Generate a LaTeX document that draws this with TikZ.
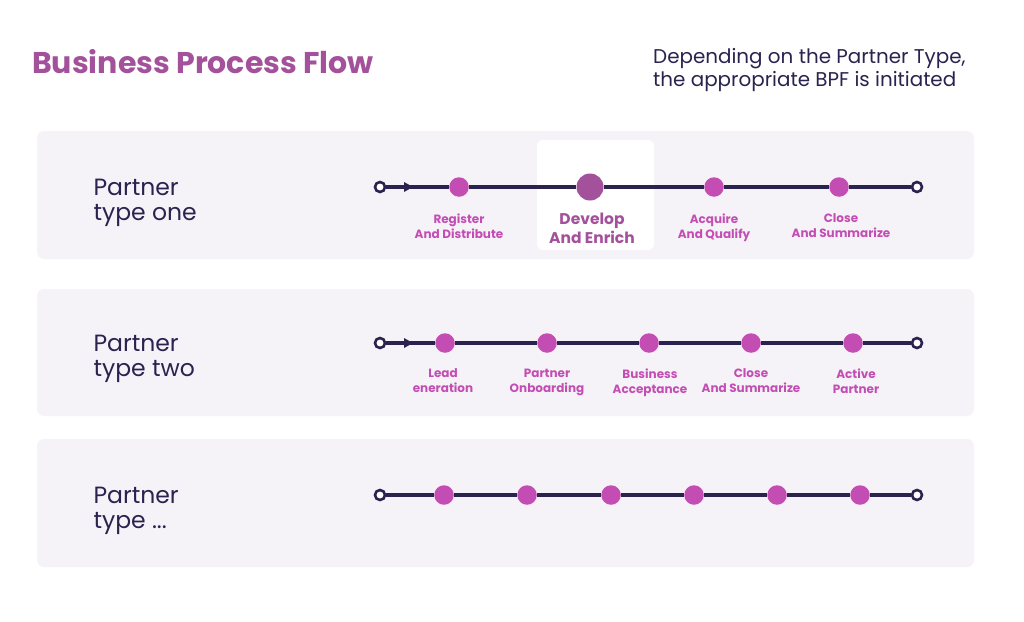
\documentclass[tikz,border=0pt]{standalone}
\usepackage{fontspec}
\setmainfont{Poppins}
\usetikzlibrary{arrows.meta}
\definecolor{navy}{HTML}{2A2350}
\definecolor{panel}{HTML}{F5F3F7}
\definecolor{dotc}{HTML}{C44DB4}
\definecolor{plum}{HTML}{A4519B}
\tikzset{
  panelbox/.style={fill=panel, rounded corners=7pt, draw=none},
  flowline/.style={draw=navy, line width=3.2pt},
  endpt/.style={circle, draw=navy, line width=2.6pt, fill=white, minimum size=10pt, inner sep=0pt},
  stage/.style={circle, fill=dotc, minimum size=19.5pt, inner sep=0pt},
  bigstage/.style={circle, fill=plum, minimum size=27pt, inner sep=0pt},
  lab/.style={text=dotc, font=\fontsize{12}{15}\selectfont\bfseries, align=center, anchor=north},
  biglab/.style={text=plum, font=\fontsize{15.5}{19}\selectfont\bfseries, align=center, anchor=north},
  rowlab/.style={text=navy, font=\fontsize{23.5}{25}\selectfont, align=left, anchor=west},
}
\begin{document}
\begin{tikzpicture}[x=1pt,y=-1pt]
\useasboundingbox[fill=white] (0,0) rectangle (1024,621);
% title
\node[anchor=base west, inner sep=0pt, text=plum, font=\fontsize{30}{32}\selectfont\bfseries] (title) at (32,73) {Business Process Flow};
\node[anchor=north west, inner sep=0pt, text=navy, font=\fontsize{19.9}{23.5}\selectfont, align=left] (note) at (653,48) {Depending on the Partner Type,\\the appropriate BPF is initiated};
% panels
\path[panelbox] (37,131) rectangle (974,259);
\path[panelbox] (37,289) rectangle (974,416);
\path[panelbox] (37,439) rectangle (974,567);
\path[fill=white, rounded corners=6pt] (537,140) rectangle (654,250);
% row labels
\node[rowlab] (r1) at (90,202.5) {Partner\\type one};
\node[rowlab] (r2) at (90,358.5) {Partner\\type two};
\node[rowlab] (r3) at (90,510.5) {Partner\\type ...};
% row 1
\node[endpt] (a0) at (380,187) {};
\node[stage] (a1) at (459,187) {};
\node[bigstage] (a2) at (590,187) {};
\node[stage] (a3) at (714,187) {};
\node[stage] (a4) at (839,187) {};
\node[endpt] (a5) at (917,187) {};
\draw[flowline] (a0) -- (a1) -- (a2) -- (a3) -- (a4) -- (a5);
\coordinate (ar1) at (413,187);
\fill[navy] (ar1) -- ++(-9,-5) -- ++(0,10) -- cycle;
\node[lab] (l11) at (459,210.5) {Register\\And Distribute};
\node[biglab] (l12) at (592,209.5) {Develop\\And Enrich};
\node[lab] (l13) at (714,210.5) {Acquire\\And Qualify};
\node[lab] (l14) at (841,210.5) {Close\\And Summarize};
% row 2
\node[endpt] (b0) at (380,343) {};
\node[stage] (b1) at (445,343) {};
\node[stage] (b2) at (547,343) {};
\node[stage] (b3) at (649,343) {};
\node[stage] (b4) at (751,343) {};
\node[stage] (b5) at (853,343) {};
\node[endpt] (b6) at (917,343) {};
\draw[flowline] (b0) -- (b1) -- (b2) -- (b3) -- (b4) -- (b5) -- (b6);
\coordinate (ar2) at (413,343);
\fill[navy] (ar2) -- ++(-9,-5) -- ++(0,10) -- cycle;
\node[lab] (l21) at (443,365.5) {Lead\\eneration};
\node[lab] (l22) at (547,365.5) {Partner\\Onboarding};
\node[lab] (l23) at (650,365.5) {Business\\Acceptance};
\node[lab] (l24) at (751,365.5) {Close\\And Summarize};
\node[lab] (l25) at (856,365.5) {Active\\Partner};
% row 3
\node[endpt] (c0) at (380,495) {};
\node[stage] (c1) at (444,495) {};
\node[stage] (c2) at (527,495) {};
\node[stage] (c3) at (611,495) {};
\node[stage] (c4) at (694,495) {};
\node[stage] (c5) at (777,495) {};
\node[stage] (c6) at (860,495) {};
\node[endpt] (c7) at (917,495) {};
\draw[flowline] (c0) -- (c1) -- (c2) -- (c3) -- (c4) -- (c5) -- (c6) -- (c7);
\end{tikzpicture}
\end{document}
